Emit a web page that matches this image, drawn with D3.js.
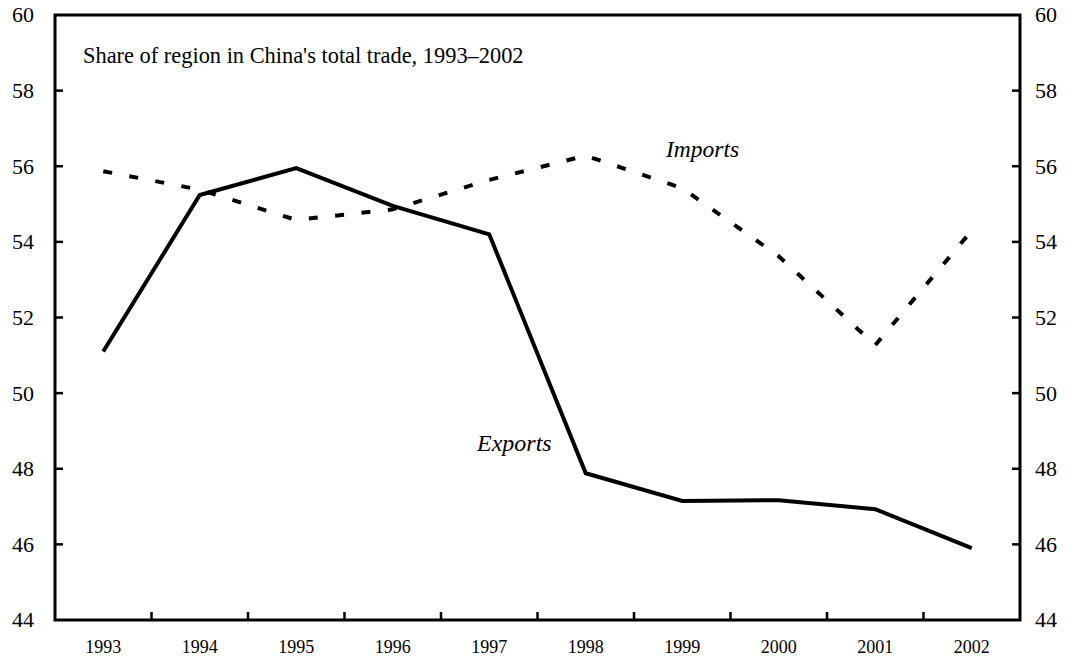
<!DOCTYPE html>
<html>
<head>
<meta charset="utf-8">
<script src="https://cdn.jsdelivr.net/npm/d3@7"></script>
<style>
  body { margin: 0; background: #fff; }
  svg { display: block; font-family: "Liberation Serif", "Times New Roman", serif; }
</style>
</head>
<body>
<div id="chart"></div>
<script>
var years = ['1993','1994','1995','1996','1997','1998','1999','2000','2001','2002'];
var exportsShare = [51.1, 55.24, 55.95, 54.95, 54.2, 47.88, 47.15, 47.17, 46.93, 45.9];
var importsShare = [55.87, 55.38, 54.58, 54.86, 55.64, 56.28, 55.42, 53.62, 51.27, 54.3];
var yTicks = [44, 46, 48, 50, 52, 54, 56, 58, 60];

var width = 1070, height = 661;
// plot box edges (window.top is reserved, so not called "top")
var plotLeft = 55, plotRight = 1020, plotTop = 15, plotBottom = 620;

var svg = d3.select('#chart').append('svg')
	.attr('width', width)
	.attr('height', height);

var x = d3.scaleBand().domain(years).range([plotLeft, plotRight]);
var y = d3.scaleLinear().domain([44, 60]).range([plotBottom, plotTop]);

// frame
svg.append('rect')
	.attr('x', plotLeft).attr('y', plotTop)
	.attr('width', plotRight - plotLeft).attr('height', plotBottom - plotTop)
	.attr('fill', 'none').attr('stroke', '#000').attr('stroke-width', 3);

// y axes, ticks point inward
function yAxis(g, side){
	var tickX = side == 'left' ? plotLeft : plotRight;
	var dir = side == 'left' ? 1 : -1;
	g.selectAll('line').data(yTicks.slice(1, -1)).enter().append('line')
		.attr('x1', tickX).attr('x2', tickX + dir * 8)
		.attr('y1', function(d){ return y(d); })
		.attr('y2', function(d){ return y(d); })
		.attr('stroke', '#000').attr('stroke-width', 2.5);
	g.selectAll('text').data(yTicks).enter().append('text')
		.attr('x', side == 'left' ? 34 : 1035)
		.attr('y', function(d){ return y(d); })
		.attr('dy', '0.34em')
		.attr('text-anchor', side == 'left' ? 'end' : 'start')
		.attr('font-size', 22)
		.text(function(d){ return d; });
}
yAxis(svg.append('g'), 'left');
yAxis(svg.append('g'), 'right');

// x axis: tick marks between the years
var xg = svg.append('g');
xg.selectAll('line').data(years.slice(1)).enter().append('line')
	.attr('x1', function(d){ return x(d); })
	.attr('x2', function(d){ return x(d); })
	.attr('y1', plotBottom).attr('y2', plotBottom - 8)
	.attr('stroke', '#000').attr('stroke-width', 2.5);
xg.selectAll('text').data(years).enter().append('text')
	.attr('x', function(d){ return x(d) + x.bandwidth() / 2; })
	.attr('y', 653)
	.attr('text-anchor', 'middle')
	.attr('font-size', 18)
	.text(function(d){ return d; });

var line = d3.line()
	.x(function(d, i){ return x(years[i]) + x.bandwidth() / 2; })
	.y(function(d){ return y(d); });

svg.append('path')
	.datum(importsShare)
	.attr('d', line)
	.attr('fill', 'none')
	.attr('stroke', '#000')
	.attr('stroke-width', 4)
	.attr('stroke-dasharray', '9,17.5');

svg.append('path')
	.datum(exportsShare)
	.attr('d', line)
	.attr('fill', 'none')
	.attr('stroke', '#000')
	.attr('stroke-width', 4)
	.attr('stroke-linejoin', 'miter');

svg.append('text')
	.attr('x', 83).attr('y', 63)
	.attr('font-size', 22.4)
	.text("Share of region in China's total trade, 1993\u20132002");

svg.append('text')
	.attr('x', 666).attr('y', 157)
	.attr('font-size', 23.5).attr('font-style', 'italic')
	.text('Imports');

svg.append('text')
	.attr('x', 477).attr('y', 451)
	.attr('font-size', 24).attr('font-style', 'italic')
	.text('Exports');
</script>
</body>
</html>
